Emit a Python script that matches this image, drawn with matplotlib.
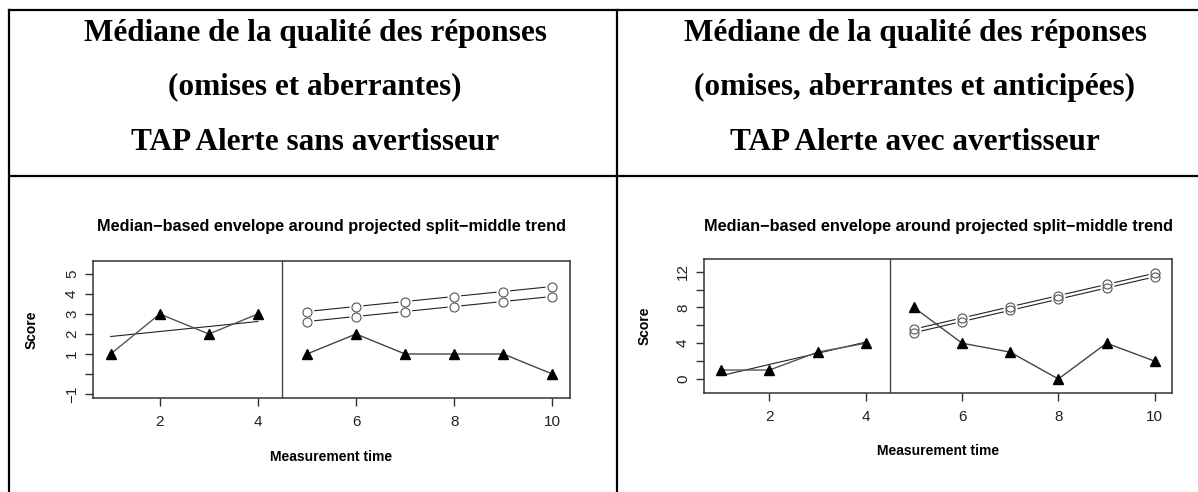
import matplotlib
matplotlib.use("Agg")
import matplotlib.pyplot as plt
from matplotlib.lines import Line2D

# figure size in pixels
W, H = 1198, 492

# header texts of the two table columns
headers_left = ["Médiane de la qualité des réponses",
                "(omises et aberrantes)",
                "TAP Alerte sans avertisseur"]
headers_right = ["Médiane de la qualité des réponses",
                 "(omises, aberrantes et anticipées)",
                 "TAP Alerte avec avertisseur"]

# left panel (sans avertisseur)
base_x = [1, 2, 3, 4]
treat_x = [5, 6, 7, 8, 9, 10]
left_base = [1, 3, 2, 3]
left_treat = [1, 2, 1, 1, 1, 0]
left_trend = [1.875, 2.625]          # split-middle trend at x=1 and x=4
left_upper = [3.125, 3.375, 3.625, 3.875, 4.125, 4.375]
left_lower = [2.625, 2.875, 3.125, 3.375, 3.625, 3.875]
left_yticks = [-1, 0, 1, 2, 3, 4, 5]
left_yticklabels = ["\u22121", "", "1", "2", "3", "4", "5"]

# right panel (avec avertisseur)
right_base = [1, 1, 3, 4]
right_treat = [8, 4, 3, 0, 4, 2]
right_trend = [0.375, 4.125]
right_upper = [5.575, 6.825, 8.075, 9.325, 10.575, 11.825]
right_lower = [5.175, 6.425, 7.675, 8.925, 10.175, 11.425]
right_yticks = [0, 2, 4, 6, 8, 10, 12]
right_yticklabels = ["0", "", "4", "", "8", "", "12"]

xticks = [2, 4, 6, 8, 10]
title = "Median\u2212based envelope around projected split\u2212middle trend"

plt.rcParams['font.family'] = ['Liberation Sans', 'DejaVu Sans']

fig = plt.figure(figsize=(W / 100, H / 100), dpi=100)


def fx(x):
    return x / W


def fy(y):
    return 1 - y / H


# table lines
def tline(x0, y0, x1, y1):
    fig.add_artist(Line2D([fx(x0), fx(x1)], [fy(y0), fy(y1)], color='black',
                          lw=1.6, transform=fig.transFigure))


tline(9, 10, W, 10)
tline(9, 176, W, 176)
tline(9, 10, 9, H)
tline(617, 10, 617, H)

for col_x, lines in [(315, headers_left), (915, headers_right)]:
    for y, txt in zip([33, 87, 142], lines):
        fig.text(fx(col_x), fy(y), txt, ha='center', va='center',
                 family='Liberation Serif', weight='bold', fontsize=22.5)


def panel(box, ylim, base, treat, trend, upper, lower, yticks, yticklabels,
          score_x, xlab_y, title_y):
    x0, y0, x1, y1 = box
    ax = fig.add_axes([fx(x0), fy(y1), fx(x1 - x0), (y1 - y0) / H])
    ax.set_xlim(0.64, 10.36)
    ax.set_ylim(*ylim)
    for s in ax.spines.values():
        s.set_color('#333333')
        s.set_linewidth(1.1)
    ax.set_xticks(xticks)
    ax.set_yticks(yticks)
    ax.set_yticklabels(yticklabels, rotation=90, va='center')
    ax.tick_params(axis='x', length=6, width=1, color='#333333', pad=6,
                   labelsize=11, labelcolor='#222222')
    ax.tick_params(axis='y', length=6, width=1, color='#333333', pad=4,
                   labelsize=11, labelcolor='#222222')

    ax.axvline(4.5, color='#444444', lw=1)
    # baseline trend
    ax.plot([base_x[0], base_x[-1]], trend, color='#222222', lw=0.8)
    # envelope (type="b" style: lines with gaps around the circles)
    for env in (upper, lower):
        ax.plot(treat_x, env, color='#222222', lw=0.8)
    for env in (upper, lower):
        ax.plot(treat_x, env, 'o', ms=10, mfc='white', mec='none', lw=0)
    for env in (upper, lower):
        ax.plot(treat_x, env, 'o', ms=6.5, mfc='none', mec='#555555', mew=0.8, lw=0)
    # data
    ax.plot(base_x, base, color='#555555', lw=1, marker='^', ms=7.5,
            mfc='black', mec='black')
    ax.plot(treat_x, treat, color='#444444', lw=1, marker='^', ms=7.5,
            mfc='black', mec='black')

    fig.text(fx((x0 + x1) / 2), fy(title_y), title, ha='center', va='center',
             fontsize=11.7, weight='bold')
    fig.text(fx(score_x), fy((y0 + y1) / 2), "Score", rotation=90,
             ha='center', va='center', fontsize=10, weight='bold')
    fig.text(fx((x0 + x1) / 2), fy(xlab_y), "Measurement time",
             ha='center', va='center', fontsize=10, weight='bold')
    return ax


panel((93, 261, 570, 398), (-1.2, 5.65), left_base, left_treat, left_trend,
      left_upper, left_lower, left_yticks, left_yticklabels, 32, 457, 226)
panel((704, 259, 1172, 393), (-1.57, 13.42), right_base, right_treat,
      right_trend, right_upper, right_lower, right_yticks, right_yticklabels,
      645, 451, 226)

fig.savefig("out.png", dpi=100)
